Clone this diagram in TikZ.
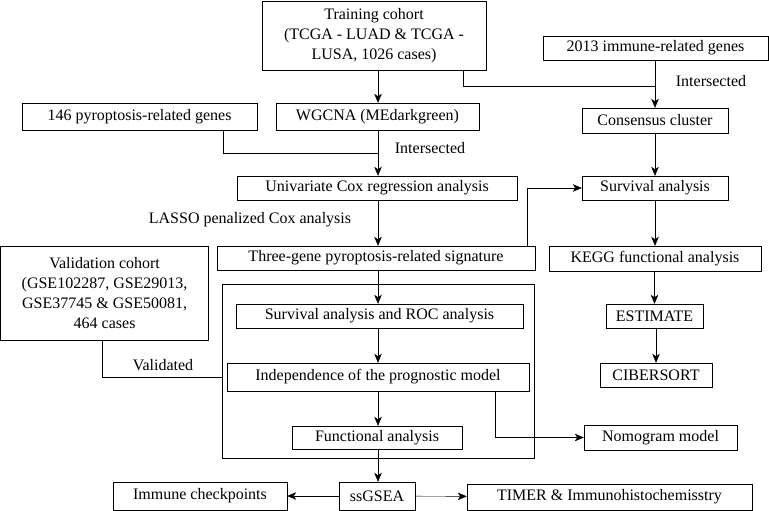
\documentclass[tikz,border=0pt]{standalone}
\usepackage{fontspec}
\setmainfont{Liberation Serif}
\usepackage{tikz}
\usetikzlibrary{arrows,arrows.meta}
\usetikzlibrary{positioning,calc}
\tikzset{
	every node/.style={font=\fontsize{16}{20}\selectfont}
}
\tikzset{
	>={Stealth[length=9pt,width=7.5pt,inset=2.5pt]},line width=1.3pt,
	box/.style={rectangle,draw,inner sep=0pt,align=center},
	lbl/.style={inner sep=0pt}
}

\begin{document}
\begin{tikzpicture}[x=1pt,y=-1pt]
	\useasboundingbox (0,0) rectangle (769,511);
	\coordinate (axis) at (378,0);
	% top part
	\node[box,minimum width=224,minimum height=69] (train) at (374,35.5) {Training cohort\\(TCGA - LUAD \& TCGA -\\LUSA, 1026 cases)};
	\node[box,minimum width=225,minimum height=24] (immune) at (655.5,48) {2013 immune-related genes};
	\node[box,minimum width=235,minimum height=27] (pyro) at (139.5,116.5) {146 pyroptosis-related genes};
	\node[box,minimum width=203,minimum height=27] (wgcna) at (377.5,116.5) {WGCNA (MEdarkgreen)};
	\node[box,minimum width=146,minimum height=25] (consensus) at (655,120.5) {Consensus cluster};
	\node[box,minimum width=280,minimum height=24] (univ) at (377,188) {Univariate Cox regression analysis};
	\node[box,minimum width=146,minimum height=24] (surv) at (655,188) {Survival analysis};
	\node[box,minimum width=318,minimum height=24] (three) at (376,258) {Three-gene pyroptosis-related signature};
	\node[box,minimum width=212,minimum height=25] (kegg) at (655,258.5) {KEGG functional analysis};
	\node[box,minimum width=208,minimum height=94] (valid) at (104.6,293) {Validation cohort\\(GSE102287, GSE29013,\\GSE37745 \& GSE50081,\\464 cases};
	% validation frame
	\node[box,minimum width=312,minimum height=174] (frame) at (378,371) {};
	\node[box,minimum width=287,minimum height=24] (roc) at (379.5,316) {Survival analysis and ROC analysis};
	\node[box,minimum width=97,minimum height=24] (estimate) at (654.5,316) {ESTIMATE};
	\node[box,minimum width=302,minimum height=28] (indep) at (378,377) {Independence of the prognostic model};
	\node[box,minimum width=112,minimum height=24] (cibersort) at (656,375) {CIBERSORT};
	\node[box,minimum width=170,minimum height=23] (func) at (377,437.5) {Functional analysis};
	\node[box,minimum width=153,minimum height=25] (nomo) at (660.5,437.5) {Nomogram model};
	% bottom row
	\node[box,minimum width=76,minimum height=28] (ssgsea) at (377,496) {ssGSEA};
	\node[box,minimum width=174,minimum height=28] (immcp) at (200,496) {Immune checkpoints};
	\node[box,minimum width=285,minimum height=26] (timer) at (609.5,497) {TIMER \& Immunohistochemisstry};
	% junctions
	\coordinate (j1) at (655,86);
	\coordinate (j2) at (378,153);
	% connectors
	\draw[->] (train.south -| axis) -- (wgcna.north -| axis);
	\draw ([xshift=89pt]train.south) |- (j1);
	\draw[->] (immune.south -| consensus.north) -- (consensus.north);
	\node[lbl] at (711,81) {Intersected};
	\draw ([xshift=84pt]pyro.south) |- (j2);
	\draw[->] (wgcna.south -| axis) -- (univ.north -| axis);
	\node[lbl] at (430,148) {Intersected};
	\draw[->] (univ.south -| axis) -- (three.north -| axis);
	\node[lbl] at (250,220) {LASSO penalized Cox analysis};
	\draw[->] ([xshift=151pt]three.north) |- (surv.west);
	\draw[->] (consensus) -- (surv);
	\draw[->] (surv) -- (kegg);
	\draw[->] (kegg.south -| estimate.north) -- (estimate.north);
	\draw[->] (estimate.south -| cibersort.north) -- (cibersort.north);
	\draw[->] (three.south -| axis) -- (roc.north -| axis);
	\draw[->] (roc.south -| axis) -- (indep.north -| axis);
	\draw[->] (indep.south -| axis) -- (func.north -| axis);
	\draw[->] ([xshift=117pt]indep.south) |- (nomo.west);
	\draw ([xshift=-2.5pt]valid.south) |- ([yshift=-6pt]frame.west);
	\node[lbl] at (163,365) {Validated};
	\draw[->] (func.south -| axis) -- (ssgsea.north -| axis);
	\draw[->] (ssgsea) -- (immcp);
	\draw[->] (ssgsea) -- (timer);
\end{tikzpicture}
\end{document}
